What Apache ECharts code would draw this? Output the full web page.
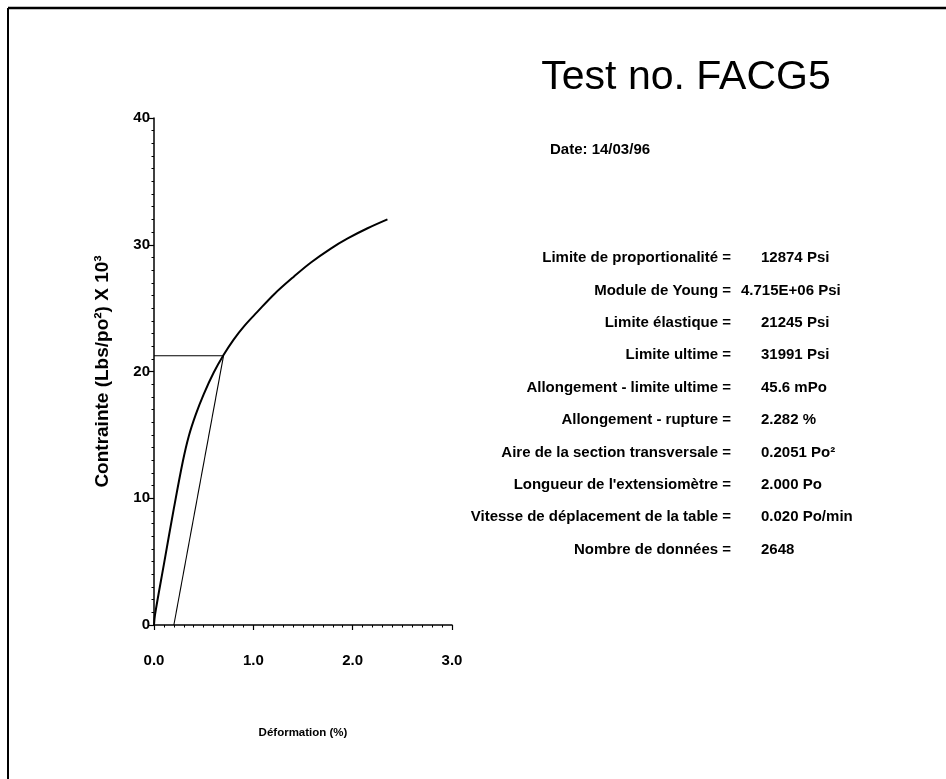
<!DOCTYPE html>
<html>
<head>
<meta charset="utf-8">
<title>Test no. FACG5</title>
<script src="https://cdn.jsdelivr.net/npm/echarts@6/dist/echarts.min.js"></script>
<style>
  html, body { margin: 0; padding: 0; background: #fff; }
  #chart { width: 946px; height: 779px; }
</style>
</head>
<body>
<div id="chart"></div>
<script>
// Stress-strain curve: strain (%) and stress (ksi)
const strain = [0, 0.01, 0.10, 0.20, 0.29, 0.35, 0.42, 0.50, 0.60, 0.70,
                0.80, 0.91, 1.04, 1.21, 1.41, 1.58, 1.78, 1.95, 2.15, 2.35];
const stress = [0, 0.8, 4.8, 9.2, 12.9, 14.9, 16.6, 18.2, 19.9, 21.3,
                22.5, 23.6, 24.7, 26.1, 27.5, 28.6, 29.7, 30.5, 31.3, 32.0];

// 0.2 % offset line and yield stress
const offsetStrain = [0.2, 0.70];
const offsetStress = [0, 21.245];
const yieldStrain = [0, 0.70];
const yieldStress = [21.245, 21.245];

// Axis ticks
const xTicks = [0, 1, 2, 3];
const yTicks = [0, 10, 20, 30, 40];

// Test results
const title = 'Test no. FACG5';
const dateText = 'Date: 14/03/96';
const paramLabels = [
  'Limite de proportionalité =',
  'Module de Young =',
  'Limite élastique =',
  'Limite ultime =',
  'Allongement - limite ultime =',
  'Allongement - rupture =',
  'Aire de la section transversale =',
  "Longueur de l'extensiomètre =",
  'Vitesse de déplacement de la table =',
  'Nombre de données ='
];
const paramValues = [
  '12874 Psi',
  '4.715E+06 Psi',
  '21245 Psi',
  '31991 Psi',
  '45.6 mPo',
  '2.282 %',
  '0.2051 Po²',
  '2.000 Po',
  '0.020 Po/min',
  '2648'
];

const FONT = 'Liberation Sans, Arial, sans-serif';
const zip = (xs, ys) => xs.map((x, i) => [x, ys[i]]);

// Layout of the results block
const rowTop = 258, rowStep = 32.4, labelRight = 731, valueLeft = 761;
const table = [];
paramLabels.forEach((lab, i) => {
  const y = rowTop + i * rowStep;
  table.push({
    type: 'text', x: labelRight, y: y,
    style: { text: lab, font: 'bold 15px ' + FONT, fill: '#000', textAlign: 'right', textVerticalAlign: 'middle' }
  });
  const vx = paramValues[i].length > 12 ? valueLeft - 20 : valueLeft;
  table.push({
    type: 'text', x: vx, y: y,
    style: { text: paramValues[i], font: 'bold 15px ' + FONT, fill: '#000', textAlign: 'left', textVerticalAlign: 'middle' }
  });
});

const chart = echarts.init(document.getElementById('chart'), null, { renderer: 'canvas' });
chart.setOption({
  backgroundColor: '#fff',
  animation: false,
  grid: { left: 154, right: 494, top: 118, bottom: 154, containLabel: false },
  xAxis: {
    type: 'value', min: xTicks[0], max: xTicks[xTicks.length - 1], interval: 1,
    name: 'Déformation (%)', nameLocation: 'middle', nameGap: 102,
    nameTextStyle: { fontFamily: FONT, fontSize: 11.5, fontWeight: 'bold', color: '#000' },
    axisLine: { lineStyle: { color: '#000', width: 1.5 } },
    axisTick: { length: 5, lineStyle: { color: '#000', width: 1.2 } },
    minorTick: { show: true, splitNumber: 10, length: 2.5, lineStyle: { color: '#000', width: 1 } },
    splitLine: { show: false },
    axisLabel: { margin: 28, fontFamily: FONT, fontSize: 15, fontWeight: 'bold', color: '#000',
                 formatter: v => v.toFixed(1) }
  },
  yAxis: {
    type: 'value', min: yTicks[0], max: yTicks[yTicks.length - 1], interval: 10,
    name: 'Contrainte (Lbs/po²) X 10³', nameLocation: 'middle', nameGap: 42, nameRotate: 90,
    nameTextStyle: { fontFamily: FONT, fontSize: 19, fontWeight: 'bold', color: '#000' },
    axisLine: { show: true, lineStyle: { color: '#000', width: 1.5 } },
    axisTick: { show: true, length: 5, lineStyle: { color: '#000', width: 1.2 } },
    minorTick: { show: true, splitNumber: 10, length: 2.5, lineStyle: { color: '#000', width: 1 } },
    splitLine: { show: false },
    axisLabel: { margin: 4, fontFamily: FONT, fontSize: 15, fontWeight: 'bold', color: '#000' }
  },
  series: [
    {
      type: 'line', data: zip(strain, stress), showSymbol: false, smooth: 0.35,
      lineStyle: { color: '#000', width: 2 }
    },
    {
      type: 'line', data: zip(offsetStrain, offsetStress), showSymbol: false,
      lineStyle: { color: '#000', width: 1.1 }
    },
    {
      type: 'line', data: zip(yieldStrain, yieldStress), showSymbol: false,
      lineStyle: { color: '#000', width: 1.1 }
    }
  ],
  graphic: [
    // page frame
    { type: 'line', shape: { x1: 8, y1: 8, x2: 946, y2: 8 }, style: { stroke: '#000', lineWidth: 2.5 } },
    { type: 'line', shape: { x1: 8, y1: 8, x2: 8, y2: 779 }, style: { stroke: '#000', lineWidth: 2 } },
    { type: 'text', x: 686, y: 78,
      style: { text: title, font: '41px ' + FONT, fill: '#000', textAlign: 'center', textVerticalAlign: 'middle' } },
    { type: 'text', x: 550, y: 150,
      style: { text: dateText, font: 'bold 15px ' + FONT, fill: '#000', textAlign: 'left', textVerticalAlign: 'middle' } }
  ].concat(table)
});
</script>
</body>
</html>
